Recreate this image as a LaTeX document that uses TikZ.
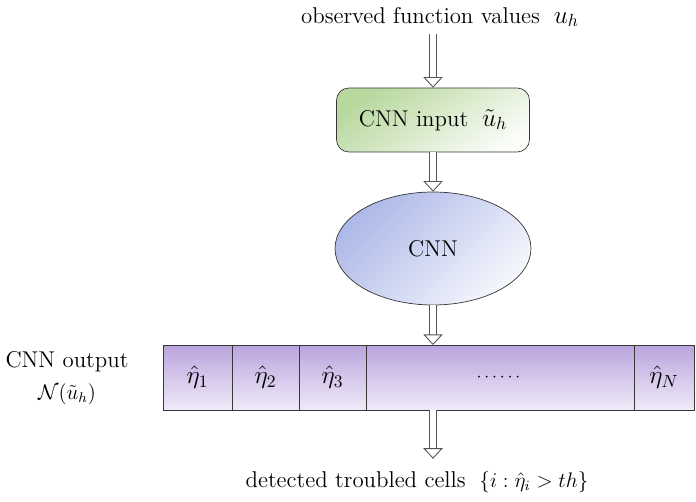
\documentclass[tikz,border=0pt]{standalone}
\usepackage{amsmath, amssymb}
\usepackage{tikz}
\usetikzlibrary{positioning,arrows.meta,shapes,calc}
\usepackage{xcolor}
\definecolor{InGreen}{RGB}{184,216,158}
\definecolor{NetBlue}{RGB}{158,172,228}
\definecolor{OutPurple}{RGB}{186,164,222}
\definecolor{OutLight}{RGB}{240,234,248}
\definecolor{EdgeGray}{RGB}{55,55,55}
\newcommand{\lblsize}{\fontsize{13}{17}\selectfont}

\begin{document}
\begin{tikzpicture}[x=0.02cm, y=-0.02cm,
  lbl/.style={font=\lblsize, inner sep=2pt, align=center},
  inbox/.style={rectangle, rounded corners=7pt, draw=EdgeGray, thin,
    top color=InGreen, bottom color=white!92!InGreen, shading angle=35,
    minimum width=3.86cm, minimum height=1.28cm, font=\lblsize},
  netell/.style={ellipse, draw=EdgeGray, thin, inner sep=0pt,
    top color=NetBlue!85, bottom color=white!90!NetBlue, shading angle=45,
    minimum width=3.92cm, minimum height=2.26cm, font=\lblsize},
  cell/.style={rectangle, draw=EdgeGray, thin, inner sep=0pt, outer sep=0pt,
    top color=OutPurple, bottom color=OutLight,
    minimum height=1.3cm, font=\Large},
  harr/.style={draw=EdgeGray!85, line width=0.5pt, double=white,
    double distance=3.6pt, -{Triangle[open, length=6pt, width=11pt]}},
]
\useasboundingbox (0,0) rectangle (696,502);
% Top label and input
\node[lbl] (obs) at (440,17) {observed function values \;{\Large$u_h$}};
\node[inbox] (inp) at (433,120) {CNN input \;{\Large$\tilde{u}_h$}};
% Network
\node[netell] (cnn) at (433,248.5) {CNN};
% Output row
\node[cell, minimum width=1.38cm] (e1) at (197.5,377.5) {$\hat{\eta}_1$};
\node[cell, minimum width=1.34cm, right=0pt of e1] (e2) {$\hat{\eta}_2$};
\node[cell, minimum width=1.34cm, right=0pt of e2] (e3) {$\hat{\eta}_3$};
\node[cell, minimum width=5.36cm, right=0pt of e3] (dots) {\normalsize$\cdots\cdots$};
\node[cell, minimum width=1.2cm, right=0pt of dots] (eN) {$\hat{\eta}_N$};
\node[lbl] (outlbl) at (67,378) {CNN output\\[1pt]{\large$\mathcal{N}(\tilde{u}_h)$}};
% Bottom label
\node[lbl] (det) at (417,482) {detected troubled cells \;{\large$\{i:\hat{\eta}_i>th\}$}};
% Arrows
\draw[harr, shorten <=2pt] (obs.south -| inp.north) -- (inp.north);
\draw[harr] (inp) -- (cnn);
\draw[harr] (cnn.south) -- (cnn.south |- dots.north);
\draw[harr, shorten >=5pt] (dots.south -| cnn.south) -- (det.north -| cnn.south);
\end{tikzpicture}
\end{document}
